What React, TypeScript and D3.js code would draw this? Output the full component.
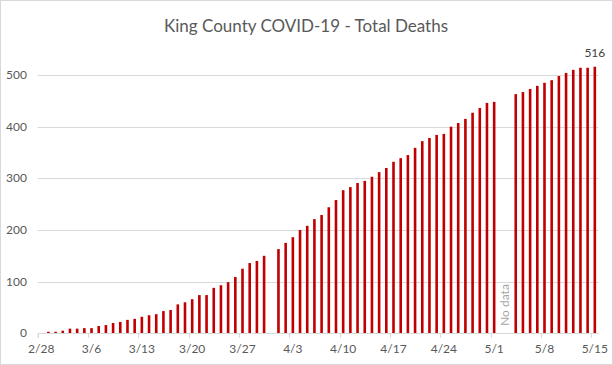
import * as d3 from 'd3';

const WIDTH = 613;
const HEIGHT = 365;
const MARGIN = { top: 75, right: 15, bottom: 32, left: 37.6 };

// one entry per day, 2/28 .. 5/15 (2020). null = no report that day
const START = new Date(2020, 1, 28);
const END = new Date(2020, 4, 16);
const days = d3.timeDay.range(START, END);

const deaths: (number | null)[] = [
  0, 3, 3, 5, 9, 9, 10, 10, 14, 16,
  20, 22, 26, 28, 32, 35, 37, 43, 45, 56,
  60, 66, 74, 74, 88, 93, 99, 109, 125, 136,
  140, 150, null, 163, 175, 186, 200, 208, 221, 229,
  244, 258, 277, 283, 291, 295, 303, 312, 320, 332,
  339, 345, 359, 372, 378, 384, 386, 400, 407, 415,
  427, 436, 446, 448, null, null, 463, 467, 473, 479,
  485, 490, 498, 504, 510, 514, 514, 516,
];

const yTicks = [0, 100, 200, 300, 400, 500];
const labelEvery = 7;
const BAR = '#c00000';
const GRID = '#d9d9d9';
const TEXT = '#595959';
const FONT = 'Lato, "Open Sans", sans-serif';

const fmt = d3.timeFormat('%-m/%-d');

const App = () => {
  const y0 = 333.3;
  const xEnd = MARGIN.left + 78 * 7.19;
  const xScale = d3
    .scaleBand<string>()
    .domain(days.map((d) => fmt(d)))
    .range([MARGIN.left, xEnd])
    .padding(0);
  const yScale = d3
    .scaleLinear()
    .domain([0, 500])
    .range([y0, MARGIN.top]);

  const bw = xScale.bandwidth();
  const barW = 2.6;

  const lastIdx = deaths.length - 1;
  const lastVal = deaths[lastIdx] as number;
  const gapIdx = deaths.indexOf(null, 40);

  return (
    <div style={{ position: 'absolute', left: 0, top: 0 }}>
      <svg width={WIDTH} height={HEIGHT} style={{ display: 'block' }}>
        <rect x={0.5} y={0.5} width={WIDTH - 1} height={HEIGHT - 1} fill="#fff" stroke={GRID} />
        <text
          x={306}
          y={32}
          textAnchor="middle"
          fontFamily={FONT}
          fontSize={17}
          fill={TEXT}
        >
          King County COVID-19 - Total Deaths
        </text>

        {/* gridlines + y labels */}
        {yTicks.map((t) => (
          <g key={t}>
            {t > 0 && (
              <line
                x1={MARGIN.left}
                x2={xEnd}
                y1={Math.round(yScale(t)) + 0.5}
                y2={Math.round(yScale(t)) + 0.5}
                stroke={GRID}
              />
            )}
            <text
              x={27}
              y={yScale(t) + 4}
              textAnchor="end"
              fontFamily={FONT}
              fontSize={12}
              fill={TEXT}
            >
              {t}
            </text>
          </g>
        ))}

        {/* bars */}
        {days.map((d, i) => {
          const v = deaths[i];
          if (v == null || v === 0) return null;
          const key = fmt(d);
          return (
            <rect
              key={key}
              x={(xScale(key) as number) + (bw - barW) / 2}
              y={yScale(v)}
              width={barW}
              height={y0 - yScale(v)}
              fill={BAR}
            />
          );
        })}

        {/* x axis */}
        <line x1={MARGIN.left} x2={xEnd} y1={333.5} y2={333.5} stroke={GRID} />
        <line x1={MARGIN.left + 0.5} x2={MARGIN.left + 0.5} y1={333} y2={338} stroke={GRID} />
        {days.map((d, i) => {
          if (i % labelEvery !== 0) return null;
          const key = fmt(d);
          const x = xScale(key) as number;
          return (
            <g key={key}>
              <line x1={Math.round(x) + 0.5} x2={Math.round(x) + 0.5} y1={333} y2={338} stroke={GRID} />
              <text
                x={x + bw / 2}
                y={353}
                textAnchor="middle"
                fontFamily={FONT}
                fontSize={12}
                fill={TEXT}
              >
                {key}
              </text>
            </g>
          );
        })}

        {/* last value label */}
        <text
          x={(xScale(fmt(days[lastIdx])) as number) + bw / 2}
          y={yScale(lastVal) - 10}
          textAnchor="middle"
          fontFamily={FONT}
          fontSize={12}
          fill="#404040"
        >
          {lastVal}
        </text>

        {/* no data note, between the two missing days */}
        <text
          transform={`translate(${(xScale(fmt(days[gapIdx])) as number) + bw + 4},305) rotate(-90)`}
          textAnchor="middle"
          fontFamily={FONT}
          fontSize={12}
          fill="#a6a6a6"
        >
          No data
        </text>
      </svg>
    </div>
  );
};

export default App;
